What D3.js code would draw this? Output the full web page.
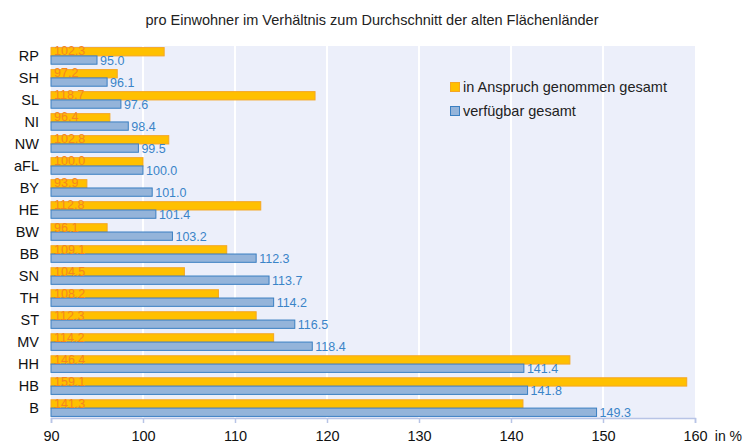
<!DOCTYPE html>
<html>
<head>
<meta charset="utf-8">
<script src="https://cdn.jsdelivr.net/npm/d3@7"></script>
<style>
  body { margin: 0; background: #fff; }
  text { font-family: "Liberation Sans", Arial, sans-serif; }
</style>
</head>
<body>
<div id="chart"></div>
<script>
// categories, top to bottom
const laender = ["RP","SH","SL","NI","NW","aFL","BY","HE","BW","BB","SN","TH","ST","MV","HH","HB","B"];
// in Anspruch genommen gesamt
const genommen = [102.3, 97.2, 118.7, 96.4, 102.8, 100.0, 93.9, 112.8, 96.1, 109.1, 104.5, 108.2, 112.3, 114.2, 146.4, 159.1, 141.3];
// verfügbar gesamt
const verfuegbar = [95.0, 96.1, 97.6, 98.4, 99.5, 100.0, 101.0, 101.4, 103.2, 112.3, 113.7, 114.2, 116.5, 118.4, 141.4, 141.8, 149.3];
const xTicks = [90, 100, 110, 120, 130, 140, 150, 160];

let svgWidth = 744, svgHeight = 443;
let plotLeft = 51, plotRight = 695, plotTop = 46, plotBottom = 418;

let svg = d3.select("#chart").append("svg")
  .attr("width", svgWidth)
  .attr("height", svgHeight);

// title
svg.append("text")
  .attr("x", 372).attr("y", 25)
  .attr("text-anchor", "middle")
  .style("font-size", "14.5px")
  .attr("fill", "#222")
  .text("pro Einwohner im Verhältnis zum Durchschnitt der alten Flächenländer");

let xScale = d3.scaleLinear().domain([90, 160]).range([plotLeft, plotRight]);
let yScale = d3.scaleBand().domain(laender).range([plotTop, plotBottom]).paddingInner(0.2).paddingOuter(0.05);

// plot background
svg.append("rect")
  .attr("x", plotLeft).attr("y", plotTop)
  .attr("width", plotRight - plotLeft).attr("height", plotBottom - plotTop)
  .attr("fill", "#eceffa");

// vertical gridlines
svg.append("g").selectAll("line")
  .data(xTicks.slice(1, -1))
  .enter().append("line")
  .attr("x1", d => xScale(d)).attr("x2", d => xScale(d))
  .attr("y1", plotTop).attr("y2", plotBottom)
  .attr("stroke", "#fff").attr("stroke-width", 2);

// x axis
let xAxis = d3.axisBottom(xScale).tickValues(xTicks).tickSize(5).tickPadding(8);
let xg = svg.append("g")
  .attr("transform", "translate(0," + plotBottom + ")")
  .call(xAxis);
xg.select(".domain").attr("stroke", "#b8c4e6").attr("stroke-width", 1.5);
xg.selectAll(".tick line").attr("stroke", "#b8c4e6").attr("stroke-width", 1.5);
xg.selectAll(".tick text").style("font-size", "14.5px").attr("fill", "#111");

svg.append("text")
  .attr("x", 742).attr("y", 441)
  .attr("text-anchor", "end")
  .style("font-size", "14px")
  .attr("fill", "#111")
  .text("in %");

// y category labels
svg.append("g").selectAll("text")
  .data(laender)
  .enter().append("text")
  .attr("x", 39)
  .attr("y", d => yScale(d) + yScale.bandwidth() / 2 + 5)
  .attr("text-anchor", "end")
  .style("font-size", "14.5px")
  .attr("fill", "#111")
  .text(d => d);

let halfBand = yScale.bandwidth() / 2;

// yellow bars
svg.append("g").selectAll("rect")
  .data(laender)
  .enter().append("rect")
  .attr("x", xScale(90))
  .attr("y", d => yScale(d) + 0.5)
  .attr("width", (d, i) => xScale(genommen[i]) - xScale(90))
  .attr("height", halfBand - 0.5)
  .attr("fill", "#ffc000")
  .attr("stroke", "#f5a623").attr("stroke-width", 1);

// blue bars
svg.append("g").selectAll("rect")
  .data(laender)
  .enter().append("rect")
  .attr("x", xScale(90))
  .attr("y", d => yScale(d) + halfBand)
  .attr("width", (d, i) => xScale(verfuegbar[i]) - xScale(90))
  .attr("height", halfBand - 0.5)
  .attr("fill", "#94b4da")
  .attr("stroke", "#3a7fc2").attr("stroke-width", 1);

// yellow labels, inside at the start
svg.append("g").selectAll("text")
  .data(laender)
  .enter().append("text")
  .attr("x", xScale(90) + 3)
  .attr("y", d => yScale(d) + halfBand - 0.5)
  .style("font-size", "12.5px")
  .attr("fill", "#f5861f")
  .text((d, i) => genommen[i].toFixed(1));

// blue labels, after the bar end
svg.append("g").selectAll("text")
  .data(laender)
  .enter().append("text")
  .attr("x", (d, i) => xScale(verfuegbar[i]) + 3)
  .attr("y", d => yScale(d) + 2 * halfBand + 0.5)
  .style("font-size", "12.5px")
  .attr("fill", "#3a84c8")
  .text((d, i) => verfuegbar[i].toFixed(1));

// legend
let legendItems = [
  { name: "in Anspruch genommen gesamt", fill: "#ffc000", stroke: "#f5a623" },
  { name: "verfügbar gesamt", fill: "#94b4da", stroke: "#3a7fc2" }
];
let legend = svg.append("g").attr("transform", "translate(450,82)");
legendItems.forEach(function(item, i) {
  legend.append("rect")
    .attr("x", 0.5).attr("y", i * 24 + 0.5)
    .attr("width", 9).attr("height", 9)
    .attr("fill", item.fill).attr("stroke", item.stroke);
  legend.append("text")
    .attr("x", 13).attr("y", i * 24 + 10)
    .style("font-size", "14.5px")
    .attr("fill", "#222")
    .text(item.name);
});
</script>
</body>
</html>
